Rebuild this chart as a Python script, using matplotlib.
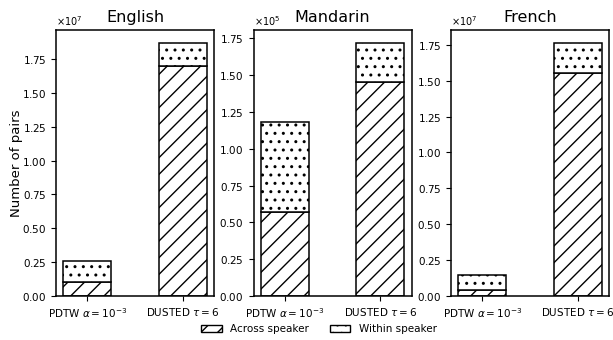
import numpy as np
import matplotlib
matplotlib.use("Agg")
import matplotlib.pyplot as plt
from matplotlib.patches import Patch

# data (units given by the scale exponent of each panel)
languages = ["English", "Mandarin", "French"]
methods = [r"PDTW $\alpha = 10^{-3}$", r"DUSTED $\tau = 6$"]
across = {"English": [0.10e7, 1.70e7],
          "Mandarin": [0.57e5, 1.45e5],
          "French": [0.04e7, 1.555e7]}
within = {"English": [0.16e7, 0.17e7],
          "Mandarin": [0.61e5, 0.27e5],
          "French": [0.105e7, 0.21e7]}

plt.rcParams['hatch.linewidth'] = 1.0

fig, axes = plt.subplots(1, 3, figsize=(6.13, 3.4), dpi=100)
fig.subplots_adjust(left=56/613, right=609/613, top=1-30/340, bottom=1-296/340, wspace=0.25)

x = np.arange(len(methods))
for ax, lang in zip(axes, languages):
	a = np.array(across[lang])
	w = np.array(within[lang])
	ax.bar(x, a, width=0.5, color='white', edgecolor='black', hatch='//', linewidth=1.1)
	ax.bar(x, w, width=0.5, bottom=a, color='white', edgecolor='black', hatch='..', linewidth=1.1)
	ax.set_title(lang, fontsize=11.5)
	ax.set_xticks(x)
	ax.set_xticklabels(methods, fontsize=7.5)
	ax.tick_params(axis='y', labelsize=7.5)
	ax.ticklabel_format(axis='y', style='sci', scilimits=(0, 0), useMathText=True)
	ax.yaxis.get_offset_text().set_fontsize(7)
	step = 0.25e7 if ax.get_ylim()[1] > 1e6 else 0.25e5
	ax.yaxis.set_major_locator(plt.MultipleLocator(step))
	for s in ax.spines.values():
		s.set_linewidth(1.1)

axes[0].set_ylabel("Number of pairs", fontsize=9.5)
axes[0].yaxis.set_label_coords(-0.21, 0.5)

handles = [Patch(facecolor='white', edgecolor='black', hatch='//', label='Across speaker'),
           Patch(facecolor='white', edgecolor='black', hatch='..', label='Within speaker')]
fig.legend(handles=handles, loc='lower center', ncol=2, frameon=False, fontsize=7.5,
           bbox_to_anchor=(0.52, -0.01), handlelength=2, columnspacing=2)

fig.savefig("out.png", dpi=100)
